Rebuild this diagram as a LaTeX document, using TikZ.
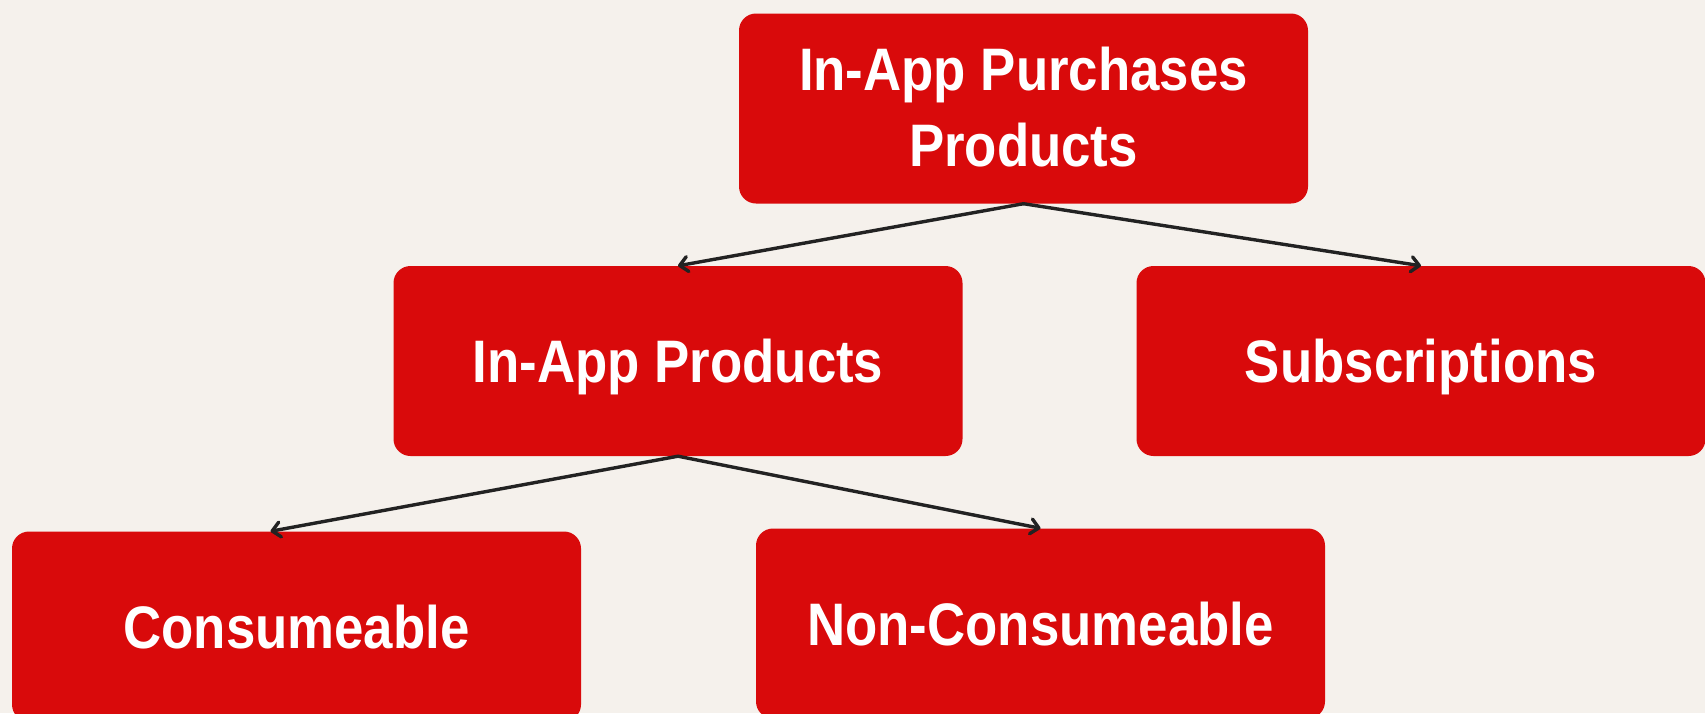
\documentclass[tikz,border=0pt]{standalone}
\usepackage{fontspec}
\setmainfont{Liberation Sans}[FakeStretch=0.88]
\usetikzlibrary{arrows.meta}
\definecolor{bg}{HTML}{F5F1EC}
\definecolor{boxred}{HTML}{D90A0B}
\definecolor{arrowc}{HTML}{222222}
\begin{document}
\begin{tikzpicture}[x=1pt,y=-1pt,
  card/.style={fill=boxred, rounded corners=17pt, inner sep=0pt,
    minimum width=569pt, minimum height=190pt},
  cardtext/.style={text=white, font=\fontsize{60}{76}\selectfont\bfseries, inner sep=0pt},
  single/.style={card, cardtext, text height=43pt, text depth=0pt},
  link/.style={draw=arrowc, line width=3.4pt, line cap=round,
    -{Straight Barb[length=8pt,width=15pt,line cap=round,line join=round]}}]
\useasboundingbox (0,0) rectangle (1705,713);
\fill[bg] (0,0) rectangle (1705,713);
\clip (0,0) rectangle (1705,713);
% nodes
\node[card] (root) at (1023.5,108.5) {};
\node[cardtext, anchor=base] (rootA) at (1023.5,90) {In-App Purchases};
\node[cardtext, anchor=base] (rootB) at (1023.5,166) {Products};
\node[single] (iap) at (678,361) {In-App Products};
\node[single] (sub) at (1421,361) {Subscriptions};
\node[single] (cons) at (296.5,626.5) {Consumeable};
\node[single] (ncons) at (1040.5,623.5) {Non-Consumeable};
% connectors
\draw[link] (root.south) -- (iap.north);
\draw[link] (root.south) -- (sub.north);
\draw[link] (iap.south) -- ([xshift=-26pt]cons.north);
\draw[link] (iap.south) -- (ncons.north);
\end{tikzpicture}
\end{document}
